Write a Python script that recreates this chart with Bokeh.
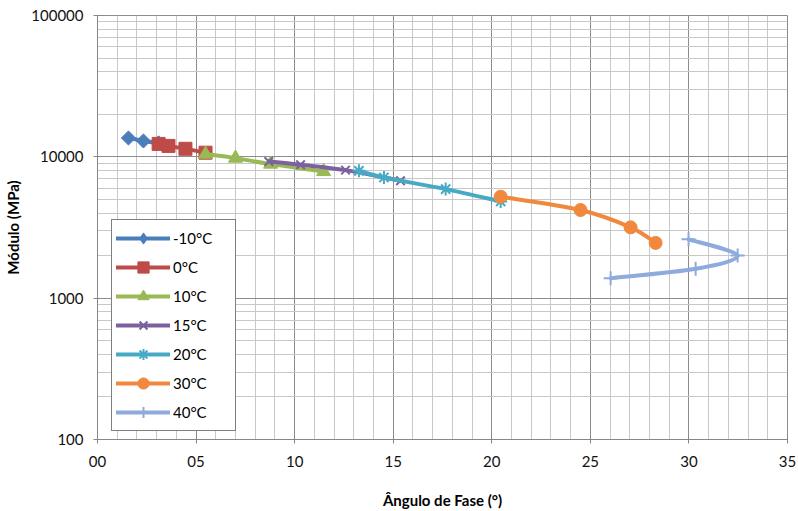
import numpy as np
from bokeh.plotting import figure
from bokeh.models import FixedTicker, PrintfTickFormatter, Legend, LegendItem
from bokeh.embed import file_html
from bokeh.resources import INLINE

# ---- data ----
series_names = ["-10°C", "0°C", "10°C", "15°C", "20°C", "30°C", "40°C"]

x_m10 = [1.57, 2.33, 3.10]
y_m10 = [13600, 12950, 12550]

x_0 = [3.10, 3.60, 4.46, 5.48]
y_0 = [12350, 11950, 11400, 10700]

x_10 = [5.48, 7.00, 8.78, 11.47]
y_10 = [10450, 9790, 8880, 7870]

x_15 = [8.69, 10.30, 12.58, 15.37]
y_15 = [9265, 8780, 8055, 6775]

x_20 = [13.26, 14.53, 17.66, 20.45]
y_20 = [7960, 7140, 5910, 4840]

x_30 = [20.45, 24.50, 27.04, 28.31]
y_30 = [5222, 4205, 3170, 2461]

x_40 = [29.98, 32.47, 30.34, 26.03]
y_40 = [2609, 2002, 1613, 1384]

x_tick_values = [0, 5, 10, 15, 20, 25, 30, 35]
y_tick_values = [100, 1000, 10000, 100000]

# ---- styles ----
colors = ["#4A7EBB", "#BE4B48", "#98B954", "#7D60A0", "#46AAC5", "#F0893E", "#8FAADC"]
markers = ["square", "square", "triangle", "x", "asterisk", "circle", "cross"]
legend_markers = ["diamond", "square", "triangle", "x", "asterisk", "circle", "cross"]
angles = [np.pi / 4, 0, 0, 0, 0, 0, 0]
msizes = [10, 13, 14, 12, 13, 13, 14]
FONT = "Lato"

p = figure(width=798, height=511, x_range=(0, 35), y_range=(100, 100000),
           y_axis_type="log", output_backend="svg", toolbar_location=None,
           min_border_left=97, min_border_right=11, min_border_top=15,
           min_border_bottom=71)
p.background_fill_color = "white"
p.border_fill_color = "white"
p.outline_line_color = "#8c8c8c"

# ticks
p.xaxis.ticker = FixedTicker(ticks=x_tick_values,
                             minor_ticks=list(np.arange(0, 36, 1)))
minor_y = [m * 10 ** k for k in range(2, 5) for m in range(2, 10)]
p.yaxis.ticker = FixedTicker(ticks=y_tick_values, minor_ticks=minor_y)
p.xaxis.formatter = PrintfTickFormatter(format="%02d")
p.yaxis.formatter = PrintfTickFormatter(format="%d")

for ax in (p.xaxis, p.yaxis):
    ax.axis_line_color = "#868686"
    ax.major_tick_line_color = "#868686"
    ax.major_tick_in = 4
    ax.major_tick_out = 4
    ax.minor_tick_in = 0
    ax.minor_tick_out = 0
    ax.major_label_text_font = FONT
    ax.major_label_text_font_size = "15px"
    ax.major_label_text_color = "#111111"
    ax.axis_label_text_font = FONT
    ax.axis_label_text_font_size = "15px"
    ax.axis_label_text_font_style = "bold"
    ax.axis_label_text_color = "#000000"

p.xaxis.axis_label = "Ângulo de Fase (°)"
p.yaxis.axis_label = "Módulo (MPa)"
p.xaxis.major_label_standoff = 12
p.xaxis.axis_label_standoff = 21
p.yaxis.major_label_standoff = 10
p.yaxis.axis_label_standoff = 6

for g in (p.xgrid, p.ygrid):
    g.grid_line_color = "#8c8c8c"
    g.grid_line_width = 1
    g.minor_grid_line_color = "#c8c8c8"
    g.minor_grid_line_width = 1


def smooth_segments(xs, ys):
    """Catmull-Rom style Bezier control points (in x / log10(y) space)."""
    x = np.asarray(xs, float)
    ly = np.log10(np.asarray(ys, float))
    n = len(x)
    x0, y0, x1, y1, cx0, cy0, cx1, cy1 = [], [], [], [], [], [], [], []
    for i in range(n - 1):
        im = max(i - 1, 0)
        ip2 = min(i + 2, n - 1)
        c0x = x[i] + (x[i + 1] - x[im]) / 6.0
        c0y = ly[i] + (ly[i + 1] - ly[im]) / 6.0
        c1x = x[i + 1] - (x[ip2] - x[i]) / 6.0
        c1y = ly[i + 1] - (ly[ip2] - ly[i]) / 6.0
        x0.append(x[i]); y0.append(10 ** ly[i])
        x1.append(x[i + 1]); y1.append(10 ** ly[i + 1])
        cx0.append(c0x); cy0.append(10 ** c0y)
        cx1.append(c1x); cy1.append(10 ** c1y)
    return x0, y0, x1, y1, cx0, cy0, cx1, cy1


all_x = [x_m10, x_0, x_10, x_15, x_20, x_30, x_40]
all_y = [y_m10, y_0, y_10, y_15, y_20, y_30, y_40]

items = []
for name, xs, ys, c, m, lm, a, s in zip(series_names, all_x, all_y, colors, markers,
                                         legend_markers, angles, msizes):
    x0, y0, x1, y1, cx0, cy0, cx1, cy1 = smooth_segments(xs, ys)
    br = p.bezier(x0=x0, y0=y0, x1=x1, y1=y1, cx0=cx0, cy0=cy0, cx1=cx1, cy1=cy1,
                  line_color=c, line_width=4, line_cap="round")
    lw = 2 if m in ("x", "asterisk", "cross") else 1
    sr = p.scatter(xs, ys, marker=m, angle=a, size=s, fill_color=c, line_color=c,
                   line_width=lw)
    # legend-only marker glyph (hidden in the plot, drawn in the legend)
    lr = p.scatter(xs, ys, marker=lm, size=s, fill_color=c, line_color=c,
                   line_width=lw, visible=False)
    items.append(LegendItem(label=name, renderers=[br, lr]))

legend = Legend(items=items, location=(14, 8), margin=0, padding=4,
                glyph_width=54, glyph_height=28, label_height=20, spacing=1,
                label_standoff=3, label_width=58,
                label_text_font=FONT, label_text_font_size="15px",
                label_text_color="#000000",
                border_line_color="#000000", border_line_width=1,
                background_fill_color="white", background_fill_alpha=1)
p.add_layout(legend, "center")

open("out.html", "w").write(file_html(p, INLINE))
